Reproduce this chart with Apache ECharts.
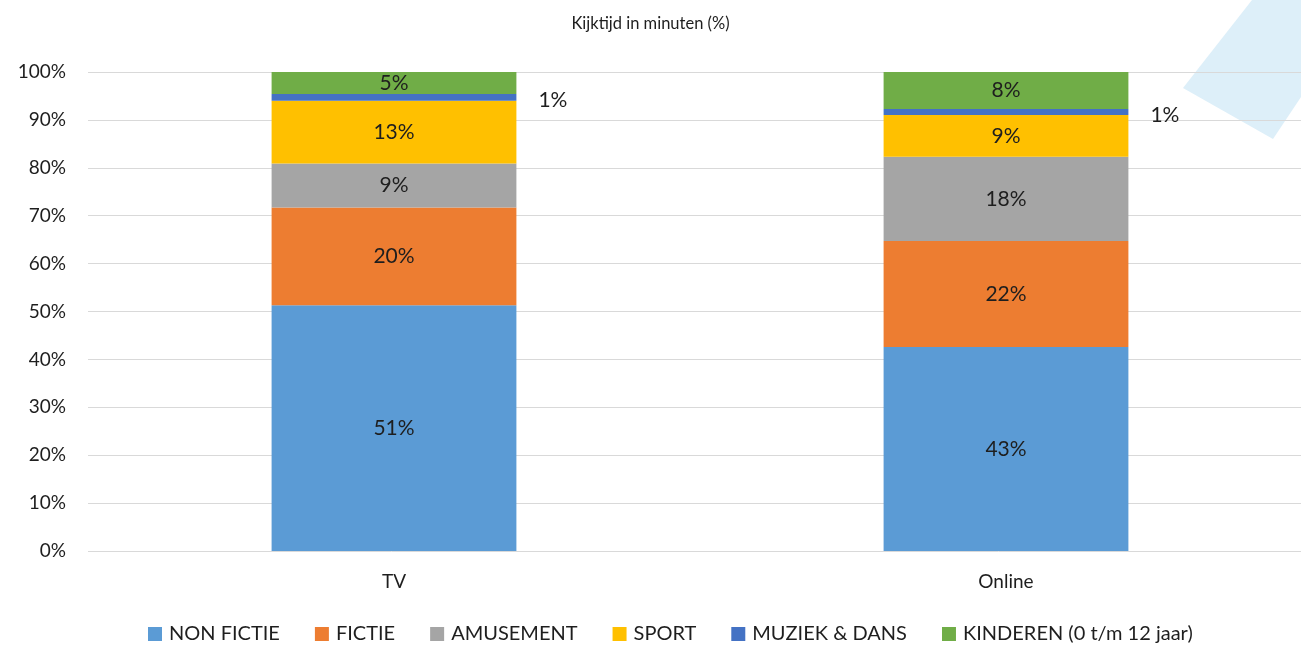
<!DOCTYPE html>
<html>
<head>
<meta charset="utf-8">
<script src="https://cdn.jsdelivr.net/npm/echarts@6/dist/echarts.min.js"></script>
<style>
  html, body { margin: 0; padding: 0; background: #fff; }
  #chart { width: 1301px; height: 645px; }
</style>
</head>
<body>
<div id="chart"></div>
<script>
var categories = ['TV', 'Online'];
var seriesNames = ['NON FICTIE', 'FICTIE', 'AMUSEMENT', 'SPORT', 'MUZIEK & DANS', 'KINDEREN (0 t/m 12 jaar)'];
var nonFictie = [51.3, 42.6];
var fictie = [20.4, 22.1];
var amusement = [9.2, 17.6];
var sport = [13.1, 8.7];
var muziek = [1.4, 1.3];
var kinderen = [4.6, 7.7];
var colors = ['#5B9BD5', '#ED7D31', '#A5A5A5', '#FFC000', '#4472C4', '#70AD47'];

var fontName = 'Lato';
var txt = '#1e1e1e';
var chart = echarts.init(document.getElementById('chart'));

function pct(p) { return Math.round(p.value) + '%'; }

var values = [nonFictie, fictie, amusement, sport, muziek, kinderen];
var series = [];
for (var i = 0; i < values.length; i++) {
  series.push({
    name: seriesNames[i],
    type: 'bar',
    stack: 'total',
    barWidth: '40%',
    data: values[i],
    itemStyle: { color: colors[i] },
    label: {
      show: true,
      position: i == 4 ? 'right' : 'inside',
      distance: 22,
      offset: i == 4 ? [0, 3] : [0, 0],
      formatter: pct,
      color: txt,
      fontSize: 21,
      fontFamily: fontName
    }
  });
}

var option = {
  backgroundColor: '#fff',
  animation: false,
  color: colors,
  title: {
    text: 'Kijktijd in minuten (%)',
    left: 'center',
    top: 10,
    textStyle: { fontSize: 16.5, fontWeight: 'normal', color: txt, fontFamily: fontName }
  },
  graphic: [{
    type: 'polygon',
    z: -1,
    shape: { points: [[1252, 0], [1183, 88], [1273, 139], [1301, 97], [1301, 0]] },
    style: { fill: '#ddeff9' }
  }],
  legend: {
    bottom: -4,
    left: 143,
    itemWidth: 14,
    itemHeight: 14,
    itemGap: 35,
    icon: 'rect',
    textStyle: { fontSize: 20, color: txt, fontFamily: fontName, padding: [0, 0, 0, 2] }
  },
  grid: { left: 88, right: -11, top: 72, bottom: 94, outerBoundsMode: 'none' },
  xAxis: {
    type: 'category',
    data: categories,
    axisLine: { show: false },
    axisTick: { show: false },
    axisLabel: { fontSize: 19, color: txt, margin: 21, fontFamily: fontName }
  },
  yAxis: {
    type: 'value',
    min: 0,
    max: 100,
    interval: 10,
    axisLine: { show: false },
    axisTick: { show: false },
    splitLine: { lineStyle: { color: '#d9d9d9', width: 1 } },
    axisLabel: { formatter: '{value}%', fontSize: 19, color: txt, margin: 22, fontFamily: fontName }
  },
  series: series
};
chart.setOption(option);
</script>
</body>
</html>
